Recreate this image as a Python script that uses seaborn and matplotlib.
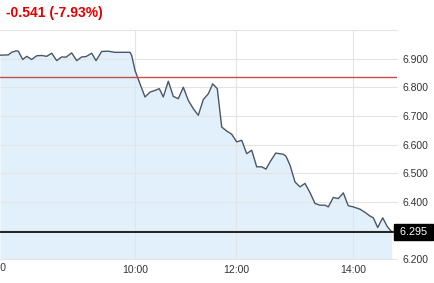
import matplotlib
matplotlib.use("Agg")
import matplotlib.pyplot as plt
import matplotlib.transforms as mtransforms
import seaborn as sns
import pandas as pd

# ---- data ----
t = [0, 8.3, 11.7, 16, 18.3, 22.7, 26.7, 31.7, 36.7, 41.7, 46.7, 51.7, 56.7, 61.7, 66,
     71.7, 76.7, 81.7, 86, 91.7, 96, 101.7, 108.3, 115, 123.3, 130, 131.7, 135, 140, 145,
     150, 155, 159.3, 163.3, 168.3, 173.3, 178.3, 183.3, 188.3, 193.3, 198.3, 203.3, 208.3,
     212.7, 217.3, 221.7, 226.7, 231.7, 236.7, 241.7, 246.7, 251.7, 256.7, 261.7, 266, 270,
     275.7, 283.3, 286, 290, 295, 300, 305, 310, 315, 320, 325, 328.3, 333.3, 338.3, 343.3,
     348.3, 353.3, 360, 365, 370, 373.3, 377.7, 382.7, 387.3, 391.7]
price = [6.912, 6.913, 6.922, 6.927, 6.926, 6.897, 6.908, 6.897, 6.910, 6.911, 6.908, 6.919,
         6.893, 6.906, 6.905, 6.920, 6.893, 6.906, 6.907, 6.919, 6.893, 6.925, 6.926, 6.922,
         6.922, 6.922, 6.911, 6.859, 6.812, 6.766, 6.783, 6.789, 6.795, 6.766, 6.821, 6.768,
         6.760, 6.800, 6.754, 6.725, 6.702, 6.757, 6.777, 6.812, 6.795, 6.661, 6.647, 6.636,
         6.609, 6.615, 6.568, 6.580, 6.522, 6.522, 6.514, 6.539, 6.570, 6.566, 6.559, 6.528,
         6.469, 6.452, 6.464, 6.432, 6.394, 6.388, 6.388, 6.382, 6.415, 6.411, 6.431, 6.386,
         6.382, 6.374, 6.363, 6.350, 6.344, 6.310, 6.344, 6.313, 6.295]
prev_close = 6.836
last_price = 6.295
change_text = "-0.541 (-7.93%)"
x_tick_pos = [135, 236, 353]
x_tick_labels = ["10:00", "12:00", "14:00"]
y_ticks = [6.2, 6.3, 6.4, 6.5, 6.6, 6.7, 6.8, 6.9]
y_grid = [6.2, 6.3, 6.4, 6.5, 6.6, 6.7, 6.8, 6.9, 7.0]

df = pd.DataFrame({"t": t, "price": price})

sns.set_style("white")
plt.rcParams["font.family"] = ["Liberation Sans", "DejaVu Sans"]

W, H = 435, 283
fig = plt.figure(figsize=(W / 100, H / 100), dpi=100)
ax = fig.add_axes([0 / W, 1 - 259 / H, 397 / W, (259 - 30) / H])

ymin, ymax = 6.2, 7.0
ax.fill_between(df["t"], df["price"], ymin, color="#e1f0fb", lw=0, zorder=0.3)
sns.lineplot(data=df, x="t", y="price", ax=ax, color="#4b5666", lw=1.0, zorder=3)

ax.set_xlim(0, 397)
ax.set_ylim(ymin, ymax)

for yv in y_grid:
    ax.axhline(yv, color="#e4e4e4", lw=0.8, zorder=1, clip_on=False)
for xv in x_tick_pos:
    ax.axvline(xv, color="#e4e4e4", lw=0.8, zorder=1)

ax.axhline(prev_close, color="#c0504d", lw=1.0, zorder=4)
ax.axhline(last_price, color="#000000", lw=1.2, zorder=4)

ax.yaxis.tick_right()
ax.set_yticks(y_ticks)
ax.set_yticklabels([f"{v:.3f}" for v in y_ticks])
ax.set_xticks(x_tick_pos)
ax.set_xticklabels(x_tick_labels)
ax.tick_params(axis="y", length=0, pad=4, labelsize=7.5, labelcolor="#333333")
ax.tick_params(axis="x", length=0, pad=4, labelsize=7.5, labelcolor="#333333")
ax.set_xlabel("")
ax.set_ylabel("")
for s in ["left", "right", "bottom", "top"]:
    ax.spines[s].set_visible(False)

# hide label of 6.300 (covered by last price box)
for lbl in ax.get_yticklabels():
    if lbl.get_text() == "6.300":
        lbl.set_visible(False)

trans = mtransforms.blended_transform_factory(ax.transAxes, ax.transData)
ax.text(1.0, last_price, f" {last_price:.3f} ", transform=trans, ha="left", va="center",
        fontsize=7.8, color="white",
        bbox=dict(boxstyle="square,pad=0.25", fc="black", ec="black"), zorder=6,
        clip_on=False)

fig.text(6 / W, 1 - 13.5 / H, change_text, color="#e00000", fontsize=10,
         fontweight="bold", ha="left", va="center")
fig.text(7 / W, 1 - 268 / H, "08:00", color="#333333", fontsize=7.5,
         ha="right", va="center")

fig.savefig("out.png", dpi=100)
